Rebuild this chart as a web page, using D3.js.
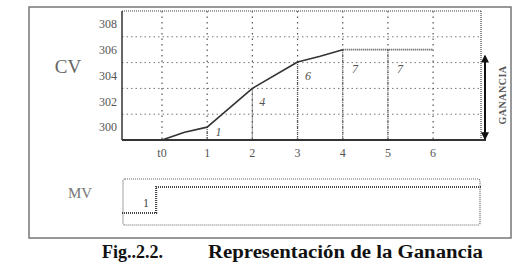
<!DOCTYPE html>
<html><head><meta charset="utf-8">
<script src="https://cdn.jsdelivr.net/npm/d3@7"></script>
<style>
html,body{margin:0;padding:0;background:#fff;}
svg{display:block;font-family:"Liberation Serif","Times New Roman",serif;}
</style></head>
<body>
<svg id="chart" width="518" height="271"></svg>
<script>
// ---- data ----
const tickPositions = [0, 1, 2, 3, 4, 5, 6];
const tickLabels = ["t0", "1", "2", "3", "4", "5", "6"];
const yTickValues = [300, 302, 304, 306, 308];
const yGridValues = [301, 303, 305, 307];
const cvTimes  = [0, 0.5, 1, 2, 3, 3.5, 4];
const cvValues = [299, 299.6, 300, 303, 305.05, 305.5, 306];
const flatTimes = [4, 5, 6];
const flatValues = [306, 306, 306];
const dropTimes = [1, 2, 3, 4, 5];
const dropValues = [300, 303, 305.05, 306, 306];
const annoLabels = ["1", "4", "6", "7", "7"];
const annoTimes  = [1.25, 2.22, 3.23, 4.27, 5.27];
const annoValues = [299.6, 302, 304, 304.5, 304.5];
const gainRange = [305.5, 299.1];
const mvTimes  = [-0.885, -0.13, 7.06];
const mvValues = [0, 1, 1];

const svg = d3.select("#chart");
const x = d3.scaleLinear().domain([-0.885, 7.06]).range([122, 481]);
const y = d3.scaleLinear().domain([299, 309]).range([140, 11]);
const ymv = d3.scaleLinear().domain([0, 1]).range([213, 187]);

// outer frame
svg.append("rect").attr("x", 29).attr("y", 7).attr("width", 482).attr("height", 231)
  .attr("fill", "none").attr("stroke", "#777").attr("stroke-width", 1.5);

// defs for arrows
const defs = svg.append("defs");
defs.append("marker").attr("id", "ah").attr("viewBox", "0 0 10 10").attr("refX", 8).attr("refY", 5)
  .attr("markerWidth", 4).attr("markerHeight", 4).attr("orient", "auto-start-reverse")
  .append("path").attr("d", "M0,0 L10,5 L0,10 z").attr("fill", "#111");

// plot frame (top & right dotted)
svg.append("line").attr("x1", x.range()[0]).attr("x2", x.range()[1]).attr("y1", y(309)).attr("y2", y(309))
  .attr("stroke", "#444").attr("stroke-width", 1.2).attr("stroke-dasharray", "1,1");
svg.append("line").attr("x1", x.range()[1]).attr("x2", x.range()[1]).attr("y1", y(309)).attr("y2", y(299))
  .attr("stroke", "#444").attr("stroke-width", 1.2).attr("stroke-dasharray", "1,1");

// horizontal grid
svg.append("g").selectAll("line").data(yGridValues).join("line")
  .attr("x1", x.range()[0]).attr("x2", x.range()[1])
  .attr("y1", d => y(d)).attr("y2", d => y(d))
  .attr("stroke", "#777").attr("stroke-width", 1).attr("stroke-dasharray", "1.5,3");

// vertical grid
svg.append("g").selectAll("line").data(tickPositions).join("line")
  .attr("x1", d => x(d)).attr("x2", d => x(d))
  .attr("y1", y(309)).attr("y2", y(299))
  .attr("stroke", "#555").attr("stroke-width", 1.2).attr("stroke-dasharray", "1.5,4");

// drop lines from curve
svg.append("g").selectAll("line").data(dropTimes).join("line")
  .attr("x1", d => x(d)).attr("x2", d => x(d))
  .attr("y1", (d, i) => y(dropValues[i])).attr("y2", y(299))
  .attr("stroke", "#555").attr("stroke-width", 1.3).attr("stroke-dasharray", "1,1");

// axes lines (left and bottom solid)
svg.append("line").attr("x1", x.range()[0]).attr("x2", x.range()[0]).attr("y1", y(309)).attr("y2", y(299))
  .attr("stroke", "#333").attr("stroke-width", 1.5);
svg.append("line").attr("x1", x.range()[0]).attr("x2", 486).attr("y1", y(299)).attr("y2", y(299))
  .attr("stroke", "#333").attr("stroke-width", 1.8);

// CV curve
const line = d3.line().x(d => x(d[0])).y(d => y(d[1]));
svg.append("path").datum(cvTimes.map((t, i) => [t, cvValues[i]]))
  .attr("d", line).attr("fill", "none").attr("stroke", "#333").attr("stroke-width", 1.6)
  .attr("stroke-linejoin", "round");
svg.append("path").datum(flatTimes.map((t, i) => [t, flatValues[i]]))
  .attr("d", line)
  .attr("fill", "none").attr("stroke", "#444").attr("stroke-width", 1.8).attr("stroke-dasharray", "1,1");

// y tick labels
svg.append("g").selectAll("text").data(yTickValues).join("text")
  .attr("x", 117).attr("y", d => y(d)).attr("dy", "0.35em").attr("text-anchor", "end")
  .attr("font-size", 12).attr("fill", "#555").text(d => d);

// x tick labels
svg.append("g").selectAll("text").data(tickPositions).join("text")
  .attr("x", d => x(d)).attr("y", 157).attr("text-anchor", "middle")
  .attr("font-size", 12).attr("fill", "#555").text((d, i) => tickLabels[i]);

// annotations
svg.append("g").selectAll("text").data(annoLabels).join("text")
  .attr("x", (d, i) => x(annoTimes[i])).attr("y", (d, i) => y(annoValues[i])).attr("dy", "0.35em")
  .attr("text-anchor", "middle").attr("font-size", 12).attr("font-style", "italic").attr("fill", "#555").text(d => d);

// CV label
svg.append("text").attr("x", 68).attr("y", 73).attr("text-anchor", "middle")
  .attr("font-size", 19).attr("fill", "#666").text("CV");

// gain arrow
svg.append("line").attr("x1", 485).attr("x2", 485).attr("y1", y(gainRange[0])).attr("y2", y(gainRange[1]))
  .attr("stroke", "#111").attr("stroke-width", 2)
  .attr("marker-start", "url(#ah)").attr("marker-end", "url(#ah)");
svg.append("text").attr("transform", "translate(502,95) rotate(-90)").attr("text-anchor", "middle")
  .attr("dy", "0.35em").attr("font-size", 10).attr("font-weight", "bold").attr("fill", "#555")
  .attr("letter-spacing", 0.5).text("GANANCIA");

// MV panel
svg.append("rect").attr("x", 123).attr("y", 179).attr("width", 357).attr("height", 46)
  .attr("rx", 2).attr("fill", "none").attr("stroke", "#666").attr("stroke-width", 1.2).attr("stroke-dasharray", "1,1");
svg.append("path").datum(mvTimes.map((t, i) => [t, mvValues[i]]))
  .attr("d", d3.line().x(d => x(d[0])).y(d => ymv(d[1])).curve(d3.curveStepAfter))
  .attr("fill", "none").attr("stroke", "#444").attr("stroke-width", 2.2).attr("stroke-dasharray", "1,1");
svg.append("text").attr("x", 80).attr("y", 198).attr("text-anchor", "middle")
  .attr("font-size", 15).attr("fill", "#777").text("MV");
svg.append("text").attr("x", 146).attr("y", 207).attr("text-anchor", "middle")
  .attr("font-size", 12).attr("fill", "#444").text("1");

// caption
svg.append("text").attr("x", 102).attr("y", 258).attr("font-size", 18).attr("font-weight", "bold")
  .attr("fill", "#111").text("Fig..2.2.");
svg.append("text").attr("x", 208).attr("y", 258).attr("font-size", 18).attr("font-weight", "bold")
  .attr("fill", "#111").attr("textLength", 275).attr("lengthAdjust", "spacingAndGlyphs").text("Representación de la Ganancia");
</script>
</body></html>
